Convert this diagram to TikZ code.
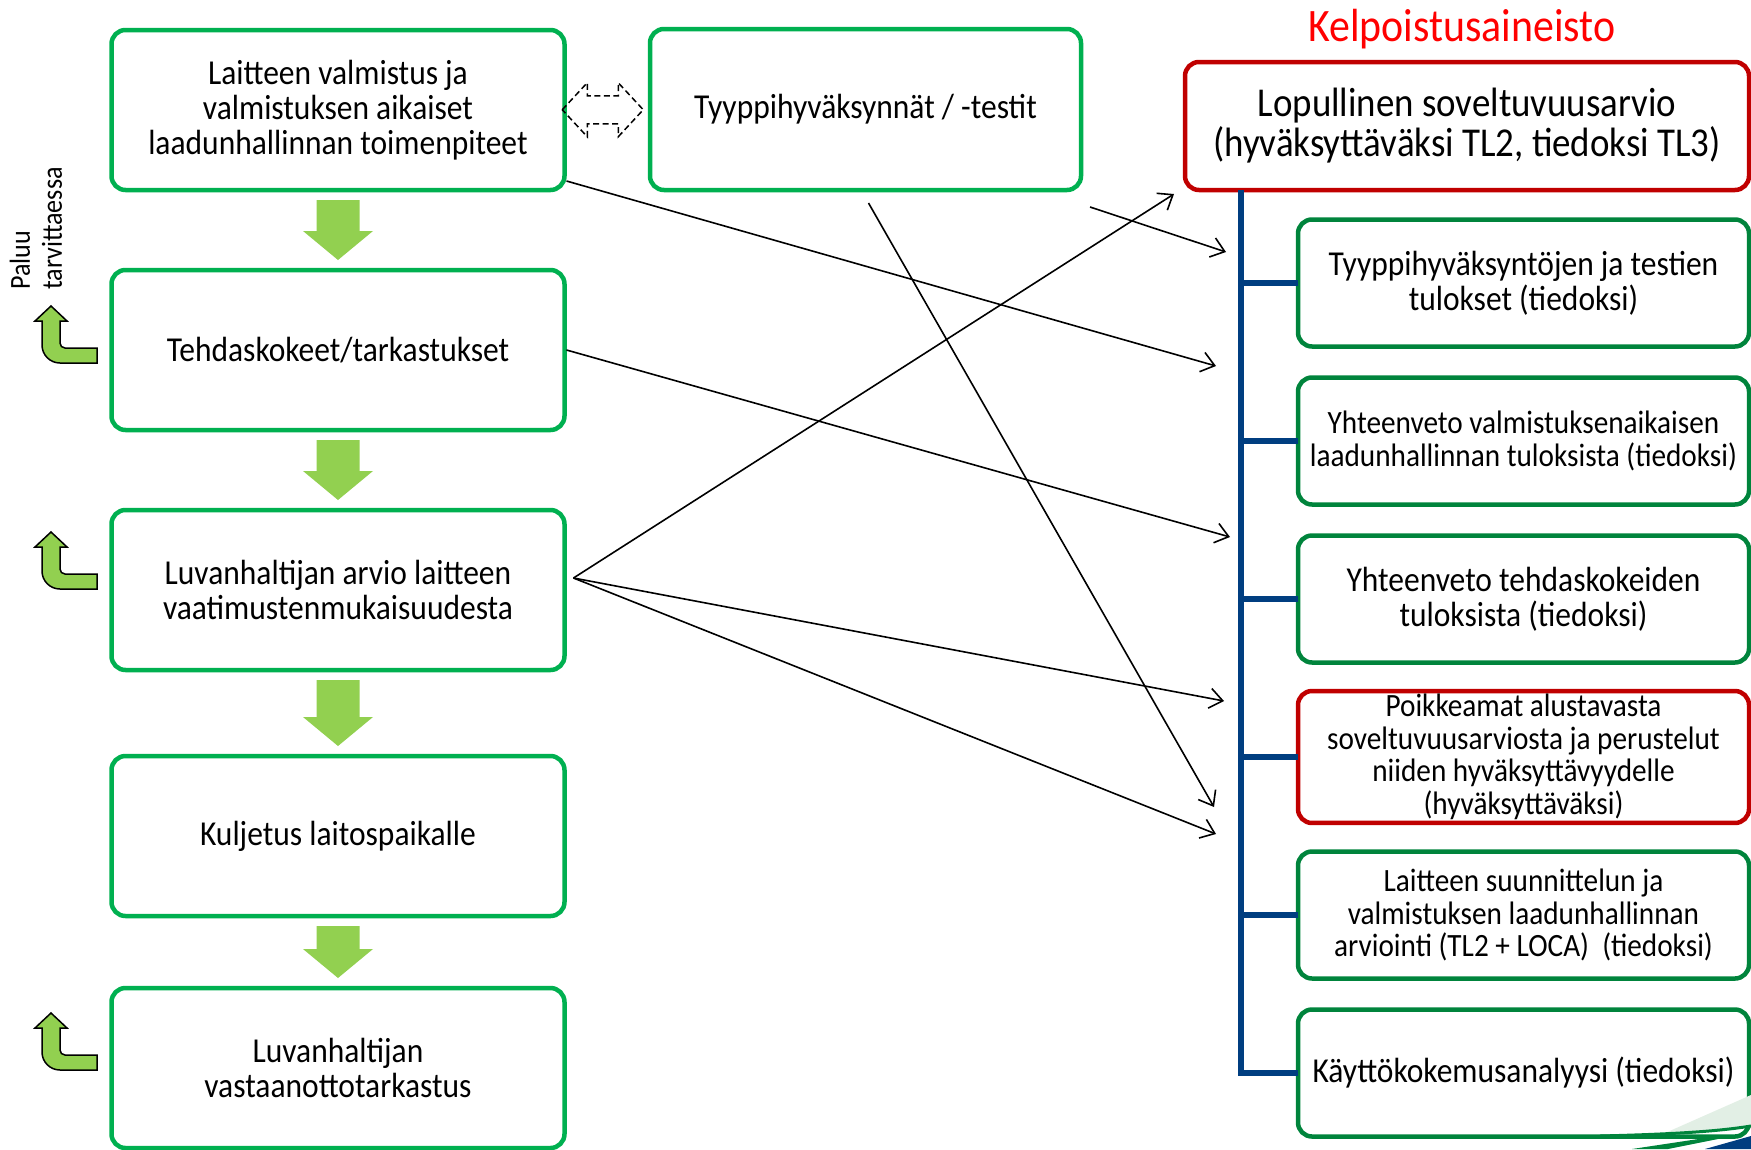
\documentclass[tikz,border=0pt]{standalone}
\usepackage{fontspec}
\setmainfont[FakeStretch=0.9]{Carlito}
\usetikzlibrary{arrows.meta,calc}

\definecolor{stepgreen}{RGB}{0,176,80}
\definecolor{docgreen}{RGB}{0,132,60}
\definecolor{docred}{RGB}{192,0,0}
\definecolor{titlered}{RGB}{255,0,0}
\definecolor{treeblue}{RGB}{0,62,128}
\definecolor{flowfill}{RGB}{146,208,80}
\definecolor{logolight}{RGB}{226,239,229}

\newcommand{\bigtext}{\fontsize{35}{35}\selectfont}
\newcommand{\smalltext}{\fontsize{32.5}{32.5}\selectfont}

\tikzset{
  stepbox/.style={draw=stepgreen, line width=4.5pt, rounded corners=14pt,
    minimum width=453pt, minimum height=160pt, outer sep=0pt,
    align=center, font=\bigtext},
  docbox/.style={draw=docgreen, line width=4.5pt, rounded corners=14pt,
    minimum width=451pt, minimum height=127pt, outer sep=0pt,
    align=center, font=\bigtext},
  tree/.style={treeblue, line width=5.5pt},
  link/.style={-{Straight Barb[length=13pt,width=20pt]}, line width=1.6pt},
}

% green block arrow from one step down to the next
\newcommand{\flowarrow}[2]{%
  \fill[flowfill] ($(#1.south)+(-21.5,-10)$) -- ($(#1.south)+(21.5,-10)$)
    -- ($(#2.north)+(21.5,39)$) -- ($(#2.north)+(35,39)$)
    -- ($(#2.north)+(0,10)$) -- ($(#2.north)+(-35,39)$)
    -- ($(#2.north)+(-21.5,39)$) -- cycle;}

% bent return arrow, #1 is its lower right corner
\newcommand{\backarrow}[1]{%
  \filldraw[fill=flowfill, draw=black, line width=1.5pt, shift={#1}]
    (0,0) -- (0,15) -- (-32,15) arc[start angle=270, end angle=180, radius=5]
    -- (-37,42) -- (-30,42) -- (-46,57) -- (-62,42) -- (-55,42)
    -- (-55,18) arc[start angle=180, end angle=270, radius=18] -- cycle;}

\begin{document}
\begin{tikzpicture}[x=1pt, y=1pt]
    \useasboundingbox (0,0) rectangle (1751,-1149);

    % Steps of the manufacturing chain
    \node[stepbox] (make) at (338,-110) {Laitteen valmistus ja\\valmistuksen aikaiset\\laadunhallinnan toimenpiteet};
    \node[stepbox] (factory) at (338,-350) {Tehdaskokeet/tarkastukset};
    \node[stepbox] (assess) at (338,-590) {Luvanhaltijan arvio laitteen\\vaatimustenmukaisuudesta};
    \node[stepbox] (transport) at (338,-836) {Kuljetus laitospaikalle};
    \node[stepbox] (receive) at (338,-1068) {Luvanhaltijan\\vastaanottotarkastus};
    \node[stepbox, minimum width=431pt, minimum height=161pt] (type) at (865.5,-109.5) {Tyyppihyväksynnät / -testit};

    \flowarrow{make}{factory}
    \flowarrow{factory}{assess}
    \flowarrow{assess}{transport}
    \flowarrow{transport}{receive}

    % Return arrows on the left
    \node[font=\fontsize{29}{32}\selectfont, rotate=90, align=left, anchor=west, inner sep=0pt] (back) at (36,-290) {Paluu\\tarvittaessa};
    \backarrow{(97,-363)}
    \backarrow{(97,-589)}
    \backarrow{(97,-1070)}

    % Dashed two-way arrow between the top boxes
    \coordinate (dbl) at ($(make.east)!0.5!(type.west)+(-4.5,0)$);
    \draw[dash pattern=on 6pt off 3.5pt, line width=1.5pt, shift={(dbl)}]
        (-40.5,0) -- (-15.5,27) -- (-15.5,14) -- (15.5,14) -- (15.5,27) -- (40.5,0)
        -- (15.5,-27) -- (15.5,-14) -- (-15.5,-14) -- (-15.5,-27) -- cycle;

    % Qualification material
    \node[font=\fontsize{46.5}{46.5}\selectfont, text=titlered, anchor=base] (kelp) at (1462,-41) {Kelpoistusaineisto};
    \node[docbox, draw=docred, minimum width=564pt, minimum height=128pt, font=\fontsize{41}{40}\selectfont] (final) at (1467,-126) {Lopullinen soveltuvuusarvio\\(hyväksyttäväksi TL2, tiedoksi TL3)};
    \node[docbox] (dType) at (1523.5,-283) {Tyyppihyväksyntöjen ja testien\\tulokset (tiedoksi)};
    \node[docbox, font=\smalltext] (dMake) at (1523.5,-441) {Yhteenveto valmistuksenaikaisen\\laadunhallinnan tuloksista (tiedoksi)};
    \node[docbox] (dFactory) at (1523.5,-599) {Yhteenveto tehdaskokeiden\\tuloksista (tiedoksi)};
    \node[docbox, draw=docred, font=\smalltext] (dDev) at (1523.5,-757) {Poikkeamat alustavasta\\soveltuvuusarviosta ja perustelut\\niiden hyväksyttävyydelle\\(hyväksyttäväksi)};
    \node[docbox, font=\smalltext] (dDesign) at (1523.5,-915) {Laitteen suunnittelun ja\\valmistuksen laadunhallinnan\\arviointi (TL2 + LOCA)\ \ (tiedoksi)};
    \node[docbox] (dExp) at (1523.5,-1073) {Käyttökokemusanalyysi (tiedoksi)};

    % Blue tree
    \coordinate (trunk) at (1241,-190);
    \draw[tree] (trunk) |- (dExp.west);
    \foreach \d in {dType,dMake,dFactory,dDev,dDesign}
        \draw[tree] (trunk |- \d.west) -- (\d.west);

    % Free ends of the links
    \coordinate (toFinal) at (1174,-194);
    \coordinate (toType) at (1226,-252);
    \coordinate (toMake) at (1216,-366);
    \coordinate (toFactory) at (1230,-537);
    \coordinate (toDev) at (1224,-701);
    \coordinate (toDesign) at (1214,-807);
    \coordinate (toRest) at (1216,-834);

    % Links from the steps to the material
    \draw[link] ($(make.south east)+(2,9)$) -- (toMake);
    \draw[link] ($(factory.east)+(2,0)$) -- (toFactory);
    \draw[link] ($(assess.east)+(9,12)$) -- (toFinal);
    \draw[link] ($(assess.east)+(9,12)$) -- (toDev);
    \draw[link] ($(assess.east)+(9,12)$) -- (toRest);
    \draw[link] ($(type.south)+(3,-13)$) -- (toDesign);
    \draw[link] ($(type.south east)+(9,-17)$) -- (toType);

    % Corner logo, cut off by the page
    \fill[logolight] (1665,-1133) -- (1751,-1095) -- (1751,-1127) -- cycle;
    \draw[docgreen, line width=3pt] (1600,-1136) .. controls (1680,-1134) and (1720,-1131) .. (1751,-1126);
    \fill[docgreen] (1632,-1149) -- (1705,-1138) -- (1728,-1137) -- (1668,-1149) -- cycle;
    \fill[treeblue] (1705,-1149) -- (1751,-1136) -- (1751,-1149) -- cycle;
\end{tikzpicture}
\end{document}
